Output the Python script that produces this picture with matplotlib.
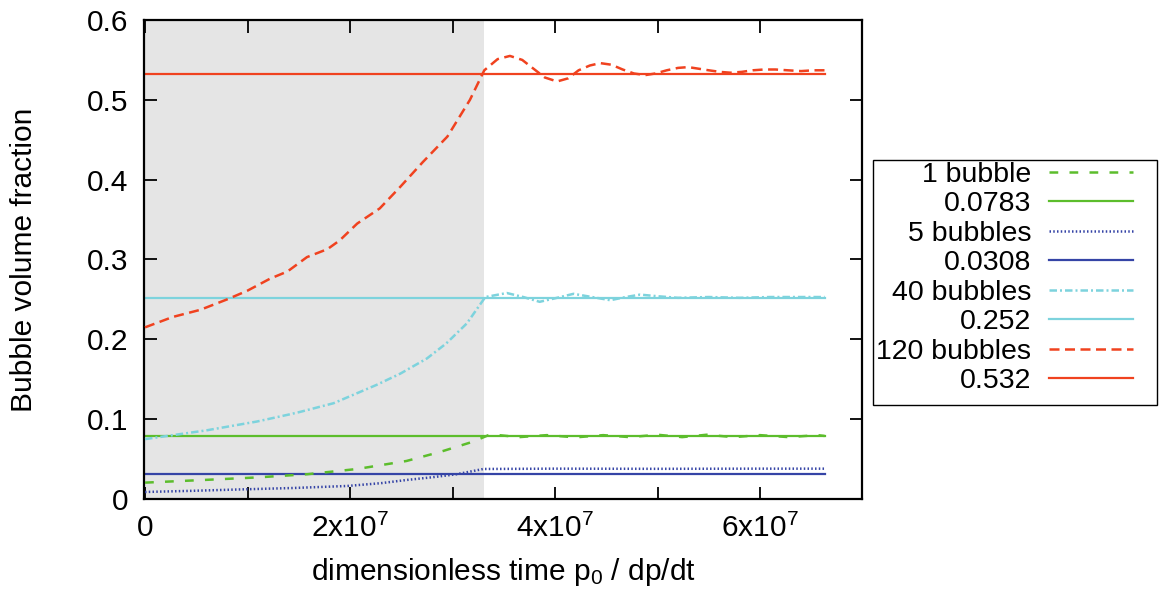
import numpy as np
import matplotlib
matplotlib.use("Agg")
import matplotlib.pyplot as plt
from matplotlib.lines import Line2D
from matplotlib.patches import Rectangle
from matplotlib.ticker import FixedLocator, FuncFormatter

plt.rcParams["font.family"] = ["Liberation Sans", "DejaVu Sans"]
plt.rcParams["mathtext.fontset"] = "custom"
plt.rcParams["mathtext.rm"] = "Liberation Sans"
plt.rcParams["mathtext.it"] = "Liberation Sans"

FS_TICK = 21.5
FS_LABEL = 21.5
FS_LEG = 20.5

# ---- data (time in units of p0 / dp/dt) ----
t_1 = np.array([0.00, 0.60, 1.09, 1.58, 2.07, 2.55, 2.88, 3.20, 3.37, 3.65, 3.92,
                4.20, 4.47, 4.73, 5.00, 5.24, 5.48, 5.74, 6.00, 6.28, 6.56, 6.63]) * 1e7
phi_1 = np.array([0.0205, 0.024, 0.027, 0.031, 0.0376, 0.0476, 0.059, 0.0718, 0.081,
                  0.0775, 0.080, 0.0772, 0.080, 0.0775, 0.0805, 0.0775, 0.0805, 0.0775,
                  0.080, 0.0775, 0.080, 0.079])

t_5 = np.array([0.00, 0.45, 0.93, 1.45, 1.97, 2.30, 2.55, 2.80, 3.04, 3.30,
                4.00, 5.00, 6.00, 6.63]) * 1e7
phi_5 = np.array([0.0088, 0.0102, 0.012, 0.0138, 0.0163, 0.0198, 0.0238, 0.0272,
                  0.031, 0.0376, 0.0380, 0.0378, 0.0380, 0.0380])

t_40 = np.array([0.00, 0.60, 1.09, 1.41, 1.51, 1.84, 2.26, 2.49, 2.75, 2.94, 3.14,
                 3.32, 3.53, 3.69, 3.85, 4.02, 4.18, 4.36, 4.54, 4.69, 4.83, 5.00,
                 5.20, 5.50, 5.80, 6.10, 6.40, 6.63]) * 1e7
phi_40 = np.array([0.075, 0.086, 0.097, 0.106, 0.109, 0.120, 0.143, 0.157, 0.176,
                   0.195, 0.220, 0.253, 0.258, 0.253, 0.247, 0.252, 0.257, 0.253,
                   0.249, 0.253, 0.256, 0.254, 0.252, 0.253, 0.252, 0.253, 0.253, 0.253])

t_120 = np.array([0.00, 0.27, 0.54, 0.80, 1.00, 1.22, 1.39, 1.58, 1.78, 1.90, 2.07,
                  2.29, 2.49, 2.71, 2.95, 3.17, 3.31, 3.44, 3.56, 3.68, 3.79, 3.90,
                  4.02, 4.13, 4.23, 4.34, 4.44, 4.55, 4.66, 4.77, 4.88, 4.98, 5.09,
                  5.20, 5.30, 5.40, 5.50, 5.61, 5.71, 5.82, 5.93, 6.04, 6.15, 6.27,
                  6.40, 6.52, 6.63]) * 1e7
phi_120 = np.array([0.215, 0.228, 0.237, 0.250, 0.261, 0.276, 0.285, 0.303, 0.313,
                    0.324, 0.345, 0.364, 0.391, 0.422, 0.454, 0.500, 0.537, 0.551,
                    0.555, 0.550, 0.539, 0.528, 0.523, 0.527, 0.537, 0.543, 0.546,
                    0.544, 0.538, 0.533, 0.531, 0.533, 0.537, 0.540, 0.541, 0.539,
                    0.537, 0.535, 0.534, 0.535, 0.537, 0.538, 0.538, 0.537, 0.536,
                    0.537, 0.537])

# predicted equilibrium fractions
pred_values = [0.0783, 0.0308, 0.252, 0.532]
pred_labels = ["0.0783", "0.0308", "0.252", "0.532"]
t_end = 6.63e7

# end of the pressure ramp
t_ramp = 3.31e7

series_labels = ["1 bubble", "5 bubbles", "40 bubbles", "120 bubbles"]
colors = ["#5cbd2c", "#3544a6", "#7dd3dd", "#f0421f"]
dash_styles = [(0, (3.5, 4.5)), (0, (0.6, 0.9)), (0, (3.0, 1.2, 0.8, 1.2)), (0, (4.0, 2.2))]
curves = [(t_1, phi_1), (t_5, phi_5), (t_40, phi_40), (t_120, phi_120)]

W, H = 1161, 592
fig = plt.figure(figsize=(W / 100, H / 100), dpi=100)
ax = fig.add_axes([144 / W, 1 - 499 / H, (862 - 144) / W, (499 - 20) / H])

ax.axvspan(0, t_ramp, color="#e5e5e5", lw=0, zorder=0)

entries = []
for (t, phi), c, ls, lab, pv, pl in zip(curves, colors, dash_styles,
                                        series_labels, pred_values, pred_labels):
    ax.plot(t, phi, color=c, lw=1.8, ls=ls, zorder=3)
    ax.plot([0, t_end], [pv, pv], color=c, lw=1.6, zorder=2)
    entries.append((lab, c, ls, 1.8))
    entries.append((pl, c, "-", 1.6))

ax.set_xlim(-0.01e7, 6.995e7)
ax.set_ylim(0, 0.6)

ax.xaxis.set_major_locator(FixedLocator(np.arange(0, 7e7, 1e7)))
ax.yaxis.set_major_locator(FixedLocator(np.arange(0, 0.61, 0.1)))


def xfmt(v, pos):
    n = int(round(v / 1e7))
    if n == 0:
        return "0"
    if n % 2:
        return ""
    return r"%dx10$^{\mathregular{7}}$" % n


def yfmt(v, pos):
    return "0" if abs(v) < 1e-9 else "%.1f" % v


ax.xaxis.set_major_formatter(FuncFormatter(xfmt))
ax.yaxis.set_major_formatter(FuncFormatter(yfmt))
ax.tick_params(direction="in", length=9, width=1.3, top=True, right=True,
               labelsize=FS_TICK, colors="black")
ax.tick_params(axis="y", pad=11)
ax.tick_params(axis="x", pad=11)
for s in ax.spines.values():
    s.set_linewidth(1.6)

ax.set_xlabel(r"dimensionless time p$_{\mathregular{0}}$ / dp/dt", fontsize=FS_LABEL)
ax.xaxis.set_label_coords(0.5, -0.118)
ax.set_ylabel("Bubble volume fraction", fontsize=FS_LABEL)
ax.yaxis.set_label_coords(-0.148, 0.5)

# legend box drawn in figure pixel coordinates
def fx(x):
    return x / W


def fy(y):
    return 1 - y / H


fig.patches.append(Rectangle((fx(873), fy(405)), fx(1157) - fx(873), fy(160) - fy(405),
                             transform=fig.transFigure, facecolor="white",
                             edgecolor="black", lw=1.0, zorder=1))
for i, (lab, c, ls, lw) in enumerate(entries):
    yy = 171.7 + 29.5 * i
    fig.text(fx(1031), fy(yy + 10), lab, ha="right", va="baseline", fontsize=FS_LEG)
    fig.lines.append(Line2D([fx(1049), fx(1133)], [fy(yy), fy(yy)],
                            transform=fig.transFigure, color=c, lw=lw, ls=ls))

fig.savefig("out.png", dpi=100)
